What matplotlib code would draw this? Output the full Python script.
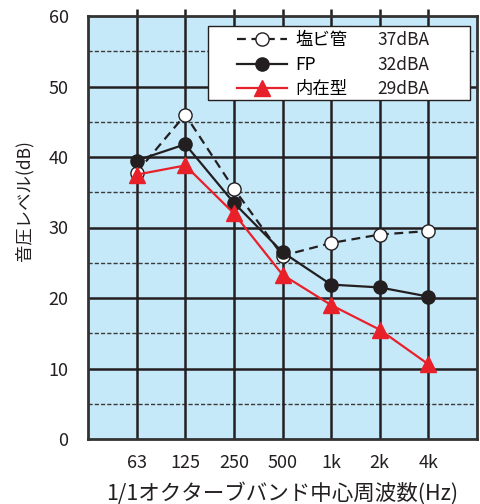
import matplotlib
matplotlib.use("Agg")
import matplotlib.pyplot as plt
from matplotlib.lines import Line2D
from matplotlib.patches import Rectangle

plt.rcParams['font.family'] = ['Noto Sans CJK JP', 'DejaVu Sans']

categories = ["63", "125", "250", "500", "1k", "2k", "4k"]
enbi = [37.8, 46.0, 35.5, 26.0, 27.8, 29.0, 29.5]
fp = [39.5, 41.8, 33.5, 26.5, 21.9, 21.5, 20.2]
naizai = [37.5, 38.8, 32.0, 23.3, 19.0, 15.5, 10.6]
series_names = ["塩ビ管", "FP", "内在型"]
series_dba = ["37dBA", "32dBA", "29dBA"]
yticks = [0, 10, 20, 30, 40, 50, 60]

RED = "#e8202a"
BG = "#c6e9f9"
DARK = "#231f20"

fig = plt.figure(figsize=(4.8, 5.04), dpi=100)
ax = fig.add_axes([88/480, 1-439/504, 389/480, 423/504])
ax.set_facecolor(BG)

x = list(range(1, len(categories) + 1))
ax.set_xlim(0, len(categories) + 1)
ax.set_ylim(0, 60)

# grid
for yv in range(10, 60, 10):
    ax.axhline(yv, color=DARK, lw=1.8, zorder=1)
for yv in range(5, 60, 10):
    ax.axhline(yv, color="#3a3a3a", lw=1.0, ls=(0, (3, 1.5)), zorder=1)
for xv in x:
    ax.axvline(xv, color=DARK, lw=1.8, zorder=1)

ax.plot(x, enbi, color=DARK, lw=1.6, ls=(0, (4, 2.5)), marker='o', ms=9.5,
        mfc='white', mec=DARK, mew=1.0, zorder=3)
ax.plot(x, fp, color=DARK, lw=1.6, marker='o', ms=9.5,
        mfc=DARK, mec=DARK, zorder=4)
ax.plot(x, naizai, color=RED, lw=1.6, marker='^', ms=11,
        mfc=RED, mec=RED, zorder=5)

ax.set_xticks(x)
ax.set_xticklabels(categories)
ax.set_yticks(yticks)
ax.tick_params(axis='x', top=True, bottom=False, labeltop=False, labelbottom=True,
               direction='out', length=5, width=1.8, color=DARK, pad=6,
               labelsize=13, labelcolor=DARK)
ax.tick_params(axis='y', left=False, length=0, pad=14, labelsize=13, labelcolor=DARK)
for s in ax.spines.values():
    s.set_color("#333333")
    s.set_linewidth(2.0)
    s.set_zorder(6)

ax.set_ylabel("音圧レベル(dB)", fontsize=12.5, color=DARK)
ax.yaxis.set_label_coords((33 - 88) / 389, (439 - 201) / 423)
ax.set_xlabel("1/1オクターブバンド中心周波数(Hz)", fontsize=15.5, color=DARK)
ax.xaxis.set_label_coords(0.5, (439 - 482) / 423)

# legend frame
def ax_x(px):
    return (px - 88) / 389

def ax_y(py):
    return (439 - py) / 423

frame = Rectangle((ax_x(208), ax_y(100)), ax_x(470) - ax_x(208), ax_y(26) - ax_y(100),
                  transform=ax.transAxes, facecolor='white', edgecolor=DARK,
                  lw=1.0, zorder=9)
ax.add_patch(frame)

handles = [
    Line2D([], [], color=DARK, lw=1.6, ls=(0, (4, 2.5)), marker='o', ms=9.5, mfc='white', mec=DARK),
    Line2D([], [], color=DARK, lw=1.6, marker='o', ms=9.5, mfc=DARK, mec=DARK),
    Line2D([], [], color=RED, lw=1.6, marker='^', ms=11, mfc=RED, mec=RED),
]
leg = ax.legend(handles, series_names, loc='upper left',
                bbox_to_anchor=(ax_x(237), ax_y(31)),
                borderaxespad=0, fontsize=12.5, handlelength=2.9, handletextpad=0.46,
                labelspacing=0.38, borderpad=0, frameon=False)
leg.set_zorder(10)

fig.canvas.draw()
inv = fig.transFigure.inverted()
for val, t in zip(series_dba, leg.get_texts()):
    bb = t.get_window_extent()
    yc = inv.transform((0, (bb.y0 + bb.y1) / 2))[1]
    ax.text(377 / 480, yc, val, transform=fig.transFigure, fontsize=12.5,
            color=DARK, va='center', ha='left', zorder=11)

fig.savefig("out.png", dpi=100)
